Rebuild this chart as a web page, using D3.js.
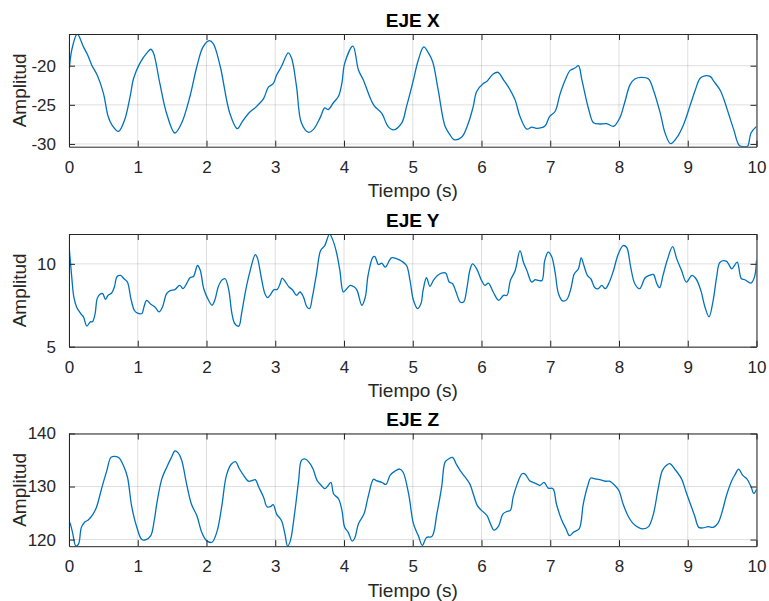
<!DOCTYPE html>
<html>
<head>
<meta charset="utf-8">
<script src="https://cdn.jsdelivr.net/npm/d3@7"></script>
<style>
	body { margin: 0; background: #fff; }
	svg { display: block; font-family: "Liberation Sans", Arial, sans-serif; }
</style>
</head>
<body>
<svg id="chart" width="769" height="601"></svg>
<script>
// time (s) and amplitude
const tX = [0, 0.04, 0.12, 0.21, 0.27, 0.33, 0.41, 0.5, 0.57, 0.62, 0.72, 0.81, 0.89, 0.94, 1.03, 1.13, 1.19, 1.23, 1.32, 1.42, 1.54, 1.64, 1.76, 1.86, 1.95, 2.04, 2.1, 2.2, 2.34, 2.45, 2.51, 2.61, 2.73, 2.83, 2.9, 2.97, 3.02, 3.09, 3.19, 3.24, 3.31, 3.38, 3.48, 3.55, 3.65, 3.72, 3.77, 3.84, 3.92, 3.97, 4.01, 4.13, 4.21, 4.28, 4.43, 4.55, 4.64, 4.72, 4.84, 4.91, 5.01, 5.08, 5.16, 5.23, 5.29, 5.37, 5.47, 5.54, 5.6, 5.71, 5.81, 5.88, 5.93, 6.03, 6.08, 6.17, 6.24, 6.32, 6.39, 6.49, 6.56, 6.66, 6.73, 6.8, 6.92, 6.99, 7.07, 7.14, 7.21, 7.29, 7.36, 7.41, 7.46, 7.56, 7.63, 7.72, 7.82, 7.92, 8.01, 8.08, 8.16, 8.23, 8.33, 8.43, 8.5, 8.6, 8.67, 8.75, 8.84, 8.94, 9.03, 9.11, 9.18, 9.25, 9.33, 9.38, 9.47, 9.52, 9.6, 9.67, 9.75, 9.82, 9.87, 9.92, 10];
const vX = [-21, -18, -15.95, -17.6, -18.6, -19.9, -21.2, -23.5, -26.5, -27.5, -28.4, -26.9, -23.9, -21.6, -19.7, -18.4, -17.9, -18.4, -22.2, -26.1, -28.6, -27.3, -23.9, -20.1, -17.6, -16.8, -17.2, -20.1, -26.1, -28.05, -27.3, -26.1, -25.2, -24.2, -22.75, -22.3, -21.2, -20.1, -18.35, -19.1, -22.7, -27.3, -28.5, -28.2, -26.7, -25.4, -25.6, -24.8, -23.9, -22.2, -19.7, -17.5, -20.55, -21.8, -25, -26.1, -27.75, -28.2, -27.3, -25.2, -21.8, -19.3, -17.6, -18.4, -19.5, -23.1, -27.75, -28.8, -29.45, -29.15, -27.3, -25.2, -23.3, -22.25, -22.0, -21.05, -20.85, -21.8, -22.7, -24.4, -26.5, -28.1, -27.85, -28, -27.75, -26.5, -25.85, -23.7, -22.0, -20.6, -20.3, -20.0, -21.8, -25.6, -27.3, -27.45, -27.4, -27.75, -26.7, -24.8, -22.45, -21.7, -21.5, -21.7, -23.1, -26.06, -28.6, -29.96, -29.2, -27.5, -25.2, -23.1, -21.6, -21.3, -21.4, -22.0, -23.1, -24.15, -26.3, -28.2, -30.2, -30.35, -30.3, -28.6, -27.75];

const tY = [0, 0.04, 0.07, 0.11, 0.17, 0.21, 0.26, 0.31, 0.34, 0.38, 0.41, 0.45, 0.49, 0.53, 0.57, 0.62, 0.66, 0.7, 0.75, 0.8, 0.85, 0.9, 0.95, 0.99, 1.06, 1.09, 1.13, 1.19, 1.25, 1.31, 1.36, 1.42, 1.48, 1.54, 1.61, 1.66, 1.71, 1.76, 1.81, 1.87, 1.91, 1.96, 2.03, 2.08, 2.12, 2.17, 2.22, 2.27, 2.32, 2.37, 2.41, 2.47, 2.51, 2.57, 2.63, 2.71, 2.74, 2.8, 2.85, 2.89, 2.93, 2.98, 3.03, 3.07, 3.1, 3.15, 3.2, 3.25, 3.31, 3.36, 3.41, 3.46, 3.5, 3.54, 3.6, 3.66, 3.72, 3.79, 3.84, 3.89, 3.94, 3.99, 4.04, 4.09, 4.15, 4.19, 4.26, 4.31, 4.35, 4.42, 4.45, 4.5, 4.55, 4.6, 4.69, 4.77, 4.84, 4.91, 4.96, 5.01, 5.07, 5.12, 5.15, 5.2, 5.25, 5.3, 5.36, 5.42, 5.48, 5.53, 5.58, 5.63, 5.69, 5.74, 5.79, 5.83, 5.87, 5.93, 6.0, 6.05, 6.1, 6.17, 6.25, 6.32, 6.37, 6.42, 6.49, 6.56, 6.61, 6.66, 6.73, 6.78, 6.83, 6.88, 6.92, 6.97, 7.02, 7.07, 7.12, 7.18, 7.24, 7.3, 7.35, 7.41, 7.45, 7.49, 7.54, 7.59, 7.65, 7.7, 7.75, 7.8, 7.86, 7.92, 7.99, 8.06, 8.11, 8.17, 8.23, 8.3, 8.38, 8.44, 8.5, 8.55, 8.59, 8.64, 8.7, 8.78, 8.84, 8.91, 8.98, 9.06, 9.12, 9.19, 9.25, 9.31, 9.37, 9.42, 9.47, 9.56, 9.64, 9.67, 9.72, 9.78, 9.83, 9.92, 9.97, 10];
const vY = [11.1, 9.2, 8.0, 7.4, 7.0, 6.8, 6.24, 6.5, 6.5, 7.0, 7.9, 8.16, 8.2, 7.86, 8.1, 8.24, 8.6, 9.24, 9.3, 9.1, 8.9, 7.9, 7.2, 7.04, 7.0, 7.4, 7.8, 7.56, 7.4, 7.1, 7.4, 8.2, 8.4, 8.44, 8.7, 8.5, 8.8, 9.16, 9.24, 9.9, 9.6, 8.5, 7.8, 7.5, 7.8, 8.6, 9.0, 9.1, 8.5, 7.0, 6.4, 6.24, 7.0, 8.4, 9.5, 10.56, 10.36, 9.1, 8.2, 7.96, 8.14, 8.44, 8.46, 8.8, 9.14, 8.9, 8.6, 8.44, 8.1, 8.3, 8.0, 7.4, 7.3, 8.0, 9.4, 10.8, 11.1, 11.8, 11.4, 10.7, 9.6, 8.3, 8.5, 8.7, 8.6, 8.4, 7.5, 8.0, 9.3, 10.4, 10.44, 9.96, 10.04, 9.8, 10.36, 10.3, 10.16, 9.9, 9.0, 7.8, 7.3, 7.6, 8.4, 9.16, 8.64, 9.0, 9.3, 9.44, 9.44, 8.9, 8.8, 8.3, 7.7, 7.7, 8.6, 9.6, 10.0, 9.7, 9.0, 8.7, 8.84, 8.3, 7.8, 8.1, 8.1, 9.0, 9.6, 10.8, 10.1, 9.6, 8.9, 9.04, 9.0, 9.0, 10.2, 10.7, 10.44, 9.5, 8.2, 7.76, 7.84, 8.5, 9.4, 9.7, 10.36, 9.9, 9.3, 9.1, 8.56, 8.5, 8.7, 8.5, 8.9, 9.6, 10.6, 11.1, 11.0, 9.8, 8.8, 8.5, 9.16, 9.3, 9.36, 8.8, 8.56, 9.3, 10.2, 11.04, 10.3, 9.6, 8.9, 9.3, 9.1, 8.4, 7.4, 6.8, 7.8, 9.2, 10.1, 10.16, 9.7, 9.84, 10.1, 9.1, 9.04, 8.84, 9.2, 10.2];

const tZ = [0, 0.01, 0.05, 0.1, 0.14, 0.18, 0.23, 0.28, 0.35, 0.4, 0.48, 0.55, 0.61, 0.67, 0.73, 0.79, 0.85, 0.91, 0.98, 1.06, 1.12, 1.19, 1.24, 1.28, 1.35, 1.42, 1.49, 1.54, 1.59, 1.64, 1.71, 1.78, 1.86, 1.93, 2.0, 2.08, 2.15, 2.22, 2.29, 2.36, 2.42, 2.48, 2.54, 2.61, 2.66, 2.71, 2.76, 2.83, 2.88, 2.93, 2.97, 3.02, 3.09, 3.14, 3.18, 3.22, 3.28, 3.34, 3.38, 3.43, 3.49, 3.55, 3.61, 3.67, 3.72, 3.77, 3.81, 3.85, 3.92, 3.97, 4.01, 4.06, 4.12, 4.16, 4.21, 4.29, 4.35, 4.43, 4.47, 4.55, 4.61, 4.67, 4.74, 4.81, 4.86, 4.94, 5.01, 5.08, 5.14, 5.2, 5.28, 5.35, 5.42, 5.47, 5.52, 5.58, 5.63, 5.69, 5.76, 5.83, 5.88, 5.94, 6.0, 6.08, 6.13, 6.18, 6.25, 6.31, 6.37, 6.42, 6.46, 6.52, 6.59, 6.63, 6.7, 6.75, 6.8, 6.85, 6.91, 6.97, 7.04, 7.09, 7.16, 7.23, 7.28, 7.34, 7.42, 7.48, 7.54, 7.59, 7.65, 7.72, 7.8, 7.86, 7.94, 8.0, 8.06, 8.13, 8.2, 8.28, 8.35, 8.43, 8.5, 8.57, 8.63, 8.69, 8.74, 8.81, 8.91, 8.97, 9.03, 9.1, 9.16, 9.22, 9.3, 9.37, 9.44, 9.49, 9.57, 9.64, 9.69, 9.74, 9.8, 9.86, 9.92, 9.96, 10];
const vZ = [120.4, 123.3, 121.4, 118.75, 119.2, 122.3, 123.3, 123.7, 124.8, 126.1, 129.9, 133.0, 135.5, 135.7, 135.4, 134.0, 131.8, 126.4, 122.6, 120.0, 120.0, 120.75, 123.6, 127.0, 131.45, 133.6, 135.5, 136.7, 136.3, 134.9, 130.5, 126.7, 124.5, 121.4, 119.8, 119.5, 121.4, 126.1, 132.1, 134.2, 134.7, 133.3, 132.1, 131.0, 131.1, 131.3, 129.9, 128.0, 126.2, 126.2, 126.6, 124.8, 123.6, 121.1, 118.75, 119.8, 124.8, 131.1, 134.9, 135.2, 134.6, 133.3, 131.1, 130.2, 129.6, 130.2, 130.8, 128.6, 127.7, 125.5, 122.3, 121.4, 119.7, 120.4, 123.0, 124.8, 128.0, 131.4, 131.1, 130.8, 130.4, 132.1, 132.9, 133.3, 132.7, 128.6, 123.0, 120.75, 118.9, 120.4, 120.6, 124.8, 129.9, 134.6, 135.2, 135.5, 134.3, 133.0, 131.8, 130.5, 128.6, 126.4, 125.5, 124.5, 123.0, 121.8, 122.6, 124.8, 125.3, 125.5, 128.0, 130.5, 132.4, 132.4, 131.1, 130.8, 130.5, 130.2, 130.8, 129.7, 129.6, 126.7, 123.9, 122.0, 120.75, 121.4, 122.0, 126.7, 129.9, 131.6, 131.45, 131.3, 131.0, 131.0, 130.2, 129.2, 126.7, 124.5, 123.1, 122.3, 122.0, 122.45, 124.8, 129.6, 133.0, 134.0, 134.3, 133.3, 131.45, 129.2, 127.0, 124.5, 122.3, 122.2, 122.45, 122.3, 123.1, 124.8, 128.6, 131.1, 132.3, 133.3, 132.1, 131.45, 130.0, 128.7, 129.5];

const titles = ["EJE X", "EJE Y", "EJE Z"];
const yTicks = [[-30, -25, -20], [5, 10], [120, 130, 140]];
const yLimits = [[-30.35, -15.95], [5, 11.8], [118.75, 140]];
const xTicks = [0, 1, 2, 3, 4, 5, 6, 7, 8, 9, 10];

const svg = d3.select("#chart");
const left = 69, right = 756.5, plotH = 112.7;
const tops = [34, 234, 433.5];
const ink = "#262626";
const tickLen = 6;

const x = d3.scaleLinear().domain([0, 10]).range([left, right]);

const series = [[tX, vX], [tY, vY], [tZ, vZ]];

series.forEach(([ts, vs], i) => {
	const top = tops[i];
	const bottom = top + plotH;
	const y = d3.scaleLinear().domain(yLimits[i]).range([bottom, top]);
	const g = svg.append("g");

	// grid
	g.selectAll(".gx").data(xTicks).enter().append("line")
		.attr("x1", d => x(d)).attr("x2", d => x(d))
		.attr("y1", top).attr("y2", bottom)
		.attr("stroke", ink).attr("stroke-opacity", 0.15).attr("stroke-width", 1);
	g.selectAll(".gy").data(yTicks[i]).enter().append("line")
		.attr("x1", left).attr("x2", right)
		.attr("y1", d => y(d)).attr("y2", d => y(d))
		.attr("stroke", ink).attr("stroke-opacity", 0.15).attr("stroke-width", 1);

	// clip so the line stays inside the box
	const clipId = "clip" + i;
	svg.append("clipPath").attr("id", clipId).append("rect")
		.attr("x", left).attr("y", top).attr("width", right - left).attr("height", plotH);

	const line = d3.line()
		.x(d => x(d[0]))
		.y(d => y(d[1]))
		.curve(d3.curveCatmullRom.alpha(0.5));

	g.append("path")
		.datum(ts.map((t, k) => [t, vs[k]]))
		.attr("clip-path", `url(#${clipId})`)
		.attr("fill", "none")
		.attr("stroke", "#0072BD")
		.attr("stroke-width", 1.3)
		.attr("d", line);

	// axes, ticks inward, mirrored on top/right
	const fmt = d => String(d);
	const axB = d3.axisBottom(x).tickValues(xTicks).tickSizeInner(-tickLen).tickSizeOuter(0).tickPadding(14).tickFormat(fmt);
	const axT = d3.axisTop(x).tickValues(xTicks).tickSizeInner(-tickLen).tickSizeOuter(0).tickFormat("");
	const axL = d3.axisLeft(y).tickValues(yTicks[i]).tickSizeInner(-tickLen).tickSizeOuter(0).tickPadding(13).tickFormat(fmt);
	const axR = d3.axisRight(y).tickValues(yTicks[i]).tickSizeInner(-tickLen).tickSizeOuter(0).tickFormat("");

	[[axB, `translate(0,${bottom})`], [axT, `translate(0,${top})`],
	 [axL, `translate(${left},0)`], [axR, `translate(${right},0)`]].forEach(([ax, tr]) => {
		const a = g.append("g").attr("transform", tr).call(ax);
		a.select(".domain").attr("stroke", ink).attr("stroke-width", 1);
		a.selectAll(".tick line").attr("stroke", ink).attr("stroke-width", 1);
		a.selectAll(".tick text").attr("fill", ink).style("font-size", "17px")
			.style("font-family", "'Liberation Sans', Arial, sans-serif");
	});

	// title and labels
	g.append("text")
		.attr("x", (left + right) / 2).attr("y", top - 7.5)
		.attr("text-anchor", "middle")
		.attr("font-weight", "bold").attr("font-size", 19).attr("fill", "#000")
		.text(titles[i]);
	g.append("text")
		.attr("x", (left + right) / 2).attr("y", bottom + 50.5)
		.attr("text-anchor", "middle")
		.attr("font-size", 19).attr("fill", ink)
		.text("Tiempo (s)");
	g.append("text")
		.attr("transform", `translate(25.5,${(top + bottom) / 2}) rotate(-90)`)
		.attr("text-anchor", "middle")
		.attr("font-size", 19).attr("fill", ink)
		.text("Amplitud");
});
</script>
</body>
</html>
